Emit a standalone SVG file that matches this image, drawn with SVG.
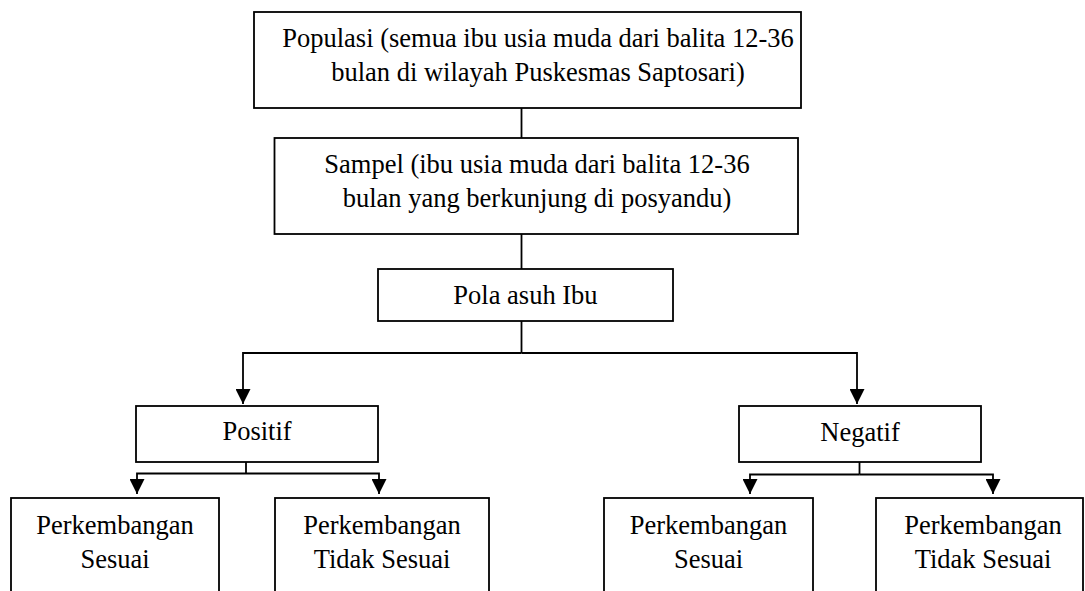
<svg xmlns="http://www.w3.org/2000/svg" width="1085" height="591" viewBox="0 0 1085 591">
<style>
.box{fill:#fff;stroke:#000;stroke-width:1.8}
.t{font-family:"Liberation Serif","Times New Roman",serif;font-size:26.5px;fill:#000;text-anchor:middle}
.c{fill:none;stroke:#000;stroke-width:1.8}
.a{fill:none;stroke:#000;stroke-width:1.8;marker-end:url(#ah)}
</style>
<defs>
<marker id="ah" viewBox="0 0 10 10" refX="10" refY="5" markerWidth="15" markerHeight="15" markerUnits="userSpaceOnUse" orient="auto">
<path d="M0,0 L10,5 L0,10 z" fill="#000"/>
</marker>
</defs>
<rect width="1085" height="591" fill="#fff"/>
<g id="connectors">
<line class="c" x1="521.5" y1="108" x2="521.5" y2="138"/>
<line class="c" x1="521.5" y1="234" x2="521.5" y2="269"/>
<polyline class="c" points="521.5,321 521.5,353"/>
<polyline class="a" points="521.5,353 243,353 243,404"/>
<polyline class="a" points="521.5,353 857,353 857,404"/>
<line class="c" x1="246" y1="462" x2="246" y2="473.5"/>
<polyline class="a" points="246,473.5 137,473.5 137,494"/>
<polyline class="a" points="246,473.5 379,473.5 379,494"/>
<line class="c" x1="859.5" y1="462" x2="859.5" y2="474.5"/>
<polyline class="a" points="859.5,474.5 750,474.5 750,494"/>
<polyline class="a" points="859.5,474.5 993,474.5 993,494"/>
</g>
<g id="populasi">
<rect class="box" x="254" y="12" width="547" height="96"/>
<text class="t" x="538" y="47">Populasi (semua ibu usia muda dari balita 12-36</text>
<text class="t" x="538" y="81">bulan di wilayah Puskesmas Saptosari)</text>
</g>
<g id="sampel">
<rect class="box" x="274.5" y="138" width="523.5" height="96"/>
<text class="t" x="537" y="173">Sampel (ibu usia muda dari balita 12-36</text>
<text class="t" x="537" y="207">bulan yang berkunjung di posyandu)</text>
</g>
<g id="pola">
<rect class="box" x="378" y="269" width="295" height="52"/>
<text class="t" x="525.5" y="304">Pola asuh Ibu</text>
</g>
<g id="positif">
<rect class="box" x="136" y="406" width="242" height="56"/>
<text class="t" x="257" y="440">Positif</text>
</g>
<g id="negatif">
<rect class="box" x="739" y="406" width="242" height="56"/>
<text class="t" x="860" y="441">Negatif</text>
</g>
<g id="pos-sesuai">
<rect class="box" x="11" y="498" width="208" height="110"/>
<text class="t" x="115" y="534">Perkembangan</text>
<text class="t" x="115" y="568">Sesuai</text>
</g>
<g id="pos-tidak">
<rect class="box" x="275" y="498" width="214" height="110"/>
<text class="t" x="382" y="534">Perkembangan</text>
<text class="t" x="382" y="568">Tidak Sesuai</text>
</g>
<g id="neg-sesuai">
<rect class="box" x="604" y="498" width="209" height="110"/>
<text class="t" x="708.5" y="534">Perkembangan</text>
<text class="t" x="708.5" y="568">Sesuai</text>
</g>
<g id="neg-tidak">
<rect class="box" x="876" y="498" width="207" height="110"/>
<text class="t" x="983" y="534">Perkembangan</text>
<text class="t" x="983" y="568">Tidak Sesuai</text>
</g>
</svg>
